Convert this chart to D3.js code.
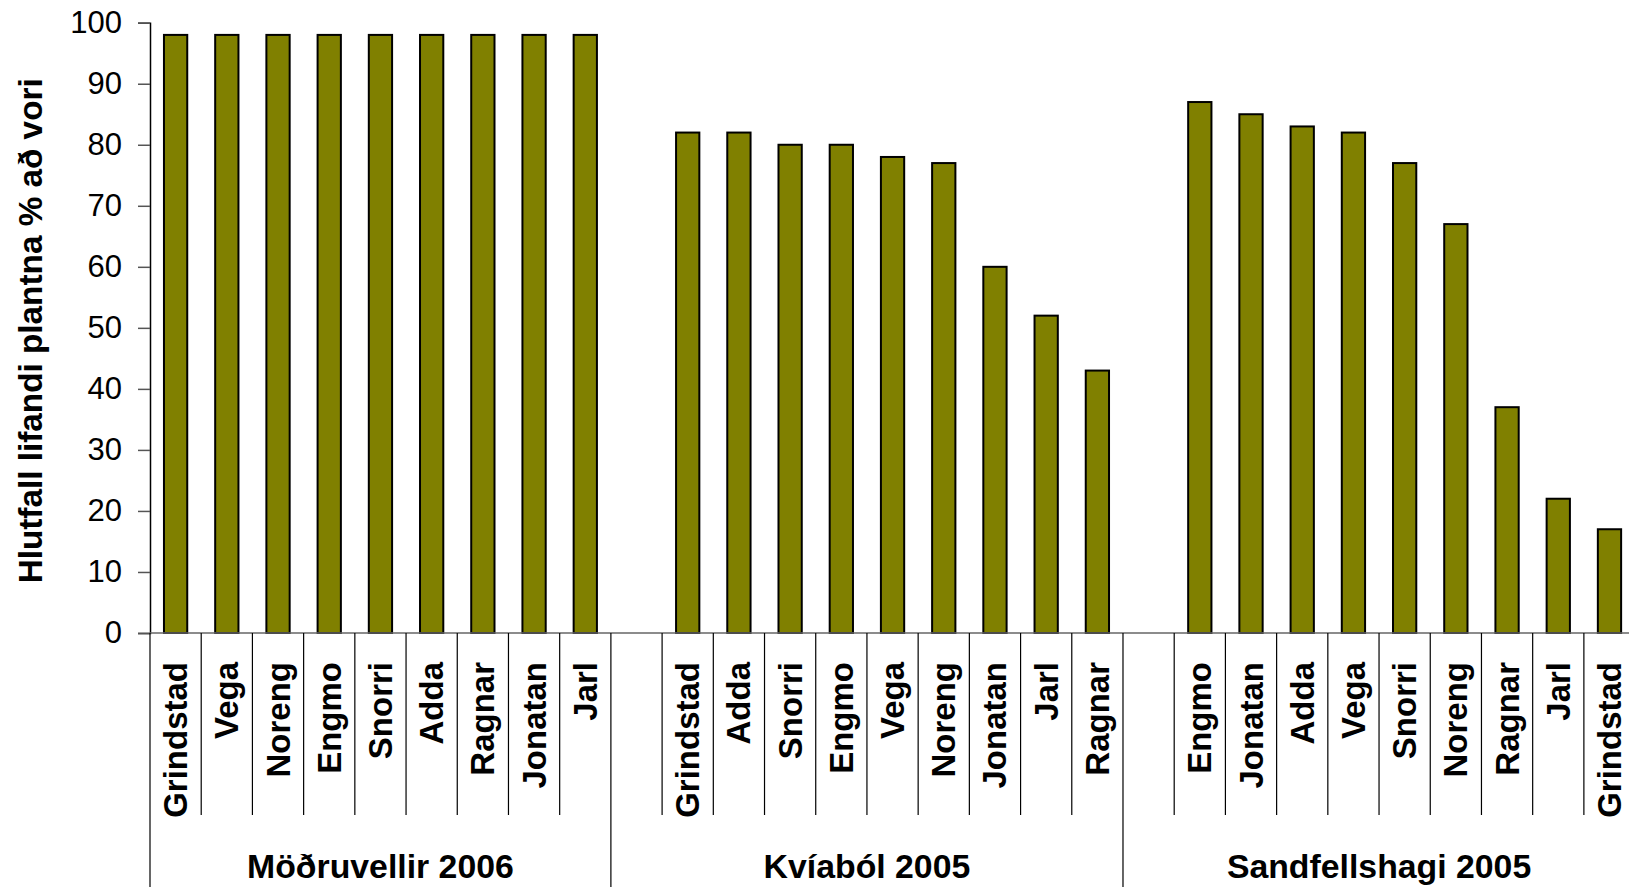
<!DOCTYPE html>
<html>
<head>
<meta charset="utf-8">
<title></title>
<script src="https://cdn.jsdelivr.net/npm/d3@7/dist/d3.min.js"></script>
<style>
body { margin: 0; background: #fff; }
text { font-family: "Liberation Sans", Arial, sans-serif; }
</style>
</head>
<body>
<script>
const width = 1629
const height = 887

// data
const groups = ['Möðruvellir 2006', 'Kvíaból 2005', 'Sandfellshagi 2005']
const cultivars1 = ['Grindstad', 'Vega', 'Noreng', 'Engmo', 'Snorri', 'Adda', 'Ragnar', 'Jonatan', 'Jarl']
const values1 = [98, 98, 98, 98, 98, 98, 98, 98, 98]
const cultivars2 = ['Grindstad', 'Adda', 'Snorri', 'Engmo', 'Vega', 'Noreng', 'Jonatan', 'Jarl', 'Ragnar']
const values2 = [82, 82, 80, 80, 78, 77, 60, 52, 43]
const cultivars3 = ['Engmo', 'Jonatan', 'Adda', 'Vega', 'Snorri', 'Noreng', 'Ragnar', 'Jarl', 'Grindstad']
const values3 = [87, 85, 83, 82, 77, 67, 37, 22, 17]
const yTicks = [0, 10, 20, 30, 40, 50, 60, 70, 80, 90, 100]

// flat list of slots, an empty slot in front of group 2 and 3
const slots = []
const lists = [[cultivars1, values1], [cultivars2, values2], [cultivars3, values3]]
lists.forEach(([names, vals], g) => {
  if (g > 0) slots.push({ group: g, name: '', value: null })
  names.forEach((n, i) => slots.push({ group: g, name: n, value: vals[i] }))
})

const left = 150
const slotW = 51.21
const x0 = 633, yTop = 22.7

const svg = d3.select('body').append('svg')
  .attr('width', width)
  .attr('height', height)

const x = d3.scaleBand()
  .domain(d3.range(slots.length))
  .range([left, left + slotW * slots.length])

const y = d3.scaleLinear()
  .domain([0, 100])
  .range([x0, yTop])

// bars
const bw = x.bandwidth() / 2.2
svg.append('g')
  .selectAll('rect')
  .data(slots.map((d, i) => ({ ...d, i })).filter(d => d.value !== null))
  .join('rect')
  .attr('x', d => x(d.i) + (x.bandwidth() - bw) / 2)
  .attr('y', d => y(d.value))
  .attr('width', bw)
  .attr('height', d => y(0) - y(d.value))
  .attr('fill', '#808000')
  .attr('stroke', '#000')
  .attr('stroke-width', 2)

// y axis
const yAxis = svg.append('g')
  .attr('transform', `translate(${left},0)`)
  .call(d3.axisLeft(y).tickValues(yTicks).tickSize(12).tickPadding(16))
yAxis.select('.domain').attr('stroke', '#000').attr('stroke-width', 1.5)
yAxis.selectAll('.tick line').attr('stroke', '#555').attr('stroke-width', 1.5)
yAxis.selectAll('.tick text')
  .attr('font-size', 31)
  .attr('font-family', '"Liberation Sans", Arial, sans-serif')
  .attr('fill', '#000')

// x axis line
svg.append('line')
  .attr('x1', left).attr('x2', width)
  .attr('y1', y(0)).attr('y2', y(0))
  .attr('stroke', '#666').attr('stroke-width', 1.5)

// separators between categories
const groupStarts = [0, cultivars1.length, cultivars1.length + 1 + cultivars2.length]
d3.range(0, slots.length).forEach(i => {
  const isLong = groupStarts.includes(i)
  svg.append('line')
    .attr('x1', x(i)).attr('x2', x(i))
    .attr('y1', y(0)).attr('y2', isLong ? height : 815)
    .attr('stroke', '#000').attr('stroke-width', 1.2)
})

// category labels
svg.append('g')
  .selectAll('text')
  .data(slots.map((d, i) => ({ ...d, i })).filter(d => d.name))
  .join('text')
  .attr('transform', d => `translate(${x(d.i) + x.bandwidth() / 2 + 11.5},662) rotate(-90)`)
  .attr('text-anchor', 'end')
  .attr('font-size', 33)
  .attr('font-weight', 'bold')
  .text(d => d.name)

// group labels
const groupEnds = [groupStarts[1], groupStarts[2], slots.length]
groups.forEach((g, k) => {
  const cx = (x(groupStarts[k]) + x(groupEnds[k] - 1) + x.bandwidth()) / 2
  svg.append('text')
    .attr('x', cx)
    .attr('y', 878)
    .attr('text-anchor', 'middle')
    .attr('font-size', 33.8)
    .attr('font-weight', 'bold')
    .text(g)
})

// y title
svg.append('text')
  .attr('transform', `translate(42,${(y(0) + y(100)) / 2 + 3}) rotate(-90)`)
  .attr('text-anchor', 'middle')
  .attr('font-size', 33.3)
  .attr('font-weight', 'bold')
  .text('Hlutfall lifandi plantna % að vori')
</script>
</body>
</html>
